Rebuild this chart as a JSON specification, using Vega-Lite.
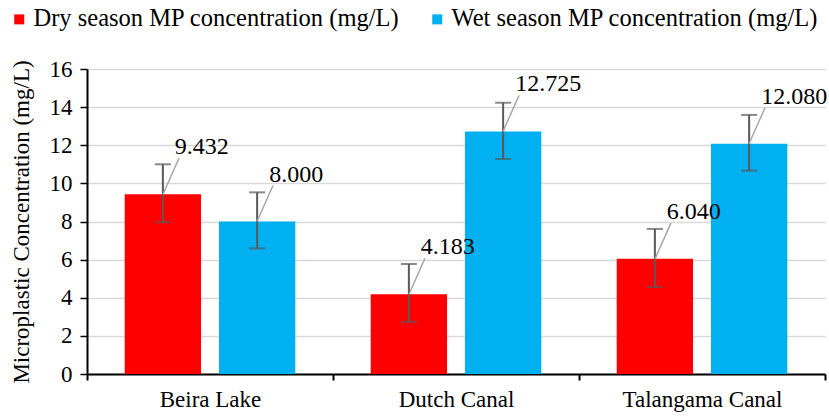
{
  "$schema": "https://vega.github.io/schema/vega-lite/v6.json",
  "autosize": {"type": "none"},
  "width": 738,
  "height": 305,
  "padding": {"left": 87, "top": 69, "right": 4, "bottom": 42},
  "config": {
    "font": "Liberation Serif",
    "view": {"stroke": null},
    "text": {"font": "Liberation Serif"},
    "axisY": {
      "titleFont": "Liberation Serif",
      "titleFontSize": 23,
      "titleFontWeight": "normal",
      "titleColor": "black",
      "titlePadding": 16,
      "labelOverlap": false,
      "labelFont": "Liberation Serif",
      "labelFontSize": 23,
      "labelColor": "black",
      "labelPadding": 8,
      "domainColor": "black",
      "domainWidth": 2,
      "tickColor": "black",
      "tickWidth": 1.5,
      "tickSize": 7,
      "gridColor": "#D9D9D9",
      "gridWidth": 1.5
    }
  },
  "data": {
    "values": [
      {"site": "Beira Lake", "season": "Dry season MP concentration (mg/L)", "value": 9.432, "low": 7.96, "high": 11.0},
      {"site": "Beira Lake", "season": "Wet season MP concentration (mg/L)", "value": 8.0, "low": 6.59, "high": 9.53},
      {"site": "Dutch Canal", "season": "Dry season MP concentration (mg/L)", "value": 4.183, "low": 2.73, "high": 5.77},
      {"site": "Dutch Canal", "season": "Wet season MP concentration (mg/L)", "value": 12.725, "low": 11.28, "high": 14.23},
      {"site": "Talangama Canal", "season": "Dry season MP concentration (mg/L)", "value": 6.04, "low": 4.56, "high": 7.61},
      {"site": "Talangama Canal", "season": "Wet season MP concentration (mg/L)", "value": 12.08, "low": 10.67, "high": 13.59}
    ]
  },
  "encoding": {
    "x": {
      "field": "site",
      "type": "nominal",
      "scale": {"paddingInner": 0, "paddingOuter": 0},
      "axis": {
        "title": null,
        "labelAngle": 0,
        "tickBand": "extent",
        "labelFont": "Liberation Serif",
        "labelFontSize": 23,
        "labelColor": "black",
        "labelPadding": 8,
        "domainColor": "black",
        "domainWidth": 2,
        "tickColor": "black",
        "tickWidth": 2,
        "tickSize": 6,
        "grid": false
      }
    }
  },
  "layer": [
    {
      "mark": {"type": "bar"},
      "encoding": {
        "xOffset": {"field": "season", "type": "nominal", "scale": {"paddingInner": 0.19, "paddingOuter": 0.4}},
        "y": {
          "field": "value",
          "type": "quantitative",
          "scale": {"domain": [0, 16]},
          "axis": {"title": "Microplastic Concentration (mg/L)", "values": [0, 2, 4, 6, 8, 10, 12, 14, 16]}
        },
        "color": {
          "field": "season",
          "type": "nominal",
          "scale": {"range": ["#FF0000", "#00B0F0"]},
          "legend": {
            "title": null,
            "orient": "none",
            "legendX": -80,
            "legendY": -62,
            "direction": "horizontal",
            "symbolType": "square",
            "symbolSize": 100,
            "symbolStrokeWidth": 0,
            "labelFont": "Liberation Serif",
            "labelFontSize": 24.5,
            "labelColor": "black",
            "columnPadding": 25,
            "labelOffset": 2,
            "labelLimit": 0
          }
        }
      }
    },
    {
      "mark": {"type": "rule", "color": "#595959", "strokeWidth": 2},
      "encoding": {
        "xOffset": {"field": "season", "type": "nominal"},
        "y": {"field": "low", "type": "quantitative", "axis": {"title": "Microplastic Concentration (mg/L)", "values": [0, 2, 4, 6, 8, 10, 12, 14, 16]}},
        "y2": {"field": "high"}
      }
    },
    {
      "mark": {"type": "tick", "color": "#595959", "thickness": 2, "size": 16},
      "encoding": {
        "xOffset": {"field": "season", "type": "nominal"},
        "y": {"field": "low", "type": "quantitative", "axis": {"title": "Microplastic Concentration (mg/L)", "values": [0, 2, 4, 6, 8, 10, 12, 14, 16]}}
      }
    },
    {
      "mark": {"type": "tick", "color": "#595959", "thickness": 2, "size": 16},
      "encoding": {
        "xOffset": {"field": "season", "type": "nominal"},
        "y": {"field": "high", "type": "quantitative", "axis": {"title": "Microplastic Concentration (mg/L)", "values": [0, 2, 4, 6, 8, 10, 12, 14, 16]}}
      }
    },
    {
      "transform": [{"filter": {"field": "season", "oneOf": ["Dry season MP concentration (mg/L)"]}}],
      "mark": {"type": "rule", "color": "#A6A6A6", "strokeWidth": 1.5, "xOffset": -47, "x2Offset": -31, "y2Offset": -36},
      "encoding": {
        "x": {"field": "site", "type": "nominal", "bandPosition": 0.5},
        "x2": {"field": "site", "bandPosition": 0.5},
        "y": {"field": "value", "type": "quantitative", "axis": {"title": "Microplastic Concentration (mg/L)", "values": [0, 2, 4, 6, 8, 10, 12, 14, 16]}},
        "y2": {"field": "value"}
      }
    },
    {
      "transform": [{"filter": {"field": "season", "oneOf": ["Wet season MP concentration (mg/L)"]}}],
      "mark": {"type": "rule", "color": "#A6A6A6", "strokeWidth": 1.5, "xOffset": 47, "x2Offset": 63, "y2Offset": -36},
      "encoding": {
        "x": {"field": "site", "type": "nominal", "bandPosition": 0.5},
        "x2": {"field": "site", "bandPosition": 0.5},
        "y": {"field": "value", "type": "quantitative", "axis": {"title": "Microplastic Concentration (mg/L)", "values": [0, 2, 4, 6, 8, 10, 12, 14, 16]}},
        "y2": {"field": "value"}
      }
    },
    {
      "mark": {"type": "text", "align": "left", "baseline": "alphabetic", "dx": 12, "dy": -40, "font": "Liberation Serif", "fontSize": 24, "color": "black"},
      "encoding": {
        "xOffset": {"field": "season", "type": "nominal"},
        "y": {"field": "value", "type": "quantitative", "axis": {"title": "Microplastic Concentration (mg/L)", "values": [0, 2, 4, 6, 8, 10, 12, 14, 16]}},
        "text": {"field": "value", "type": "quantitative", "format": ".3f"}
      }
    }
  ]
}
